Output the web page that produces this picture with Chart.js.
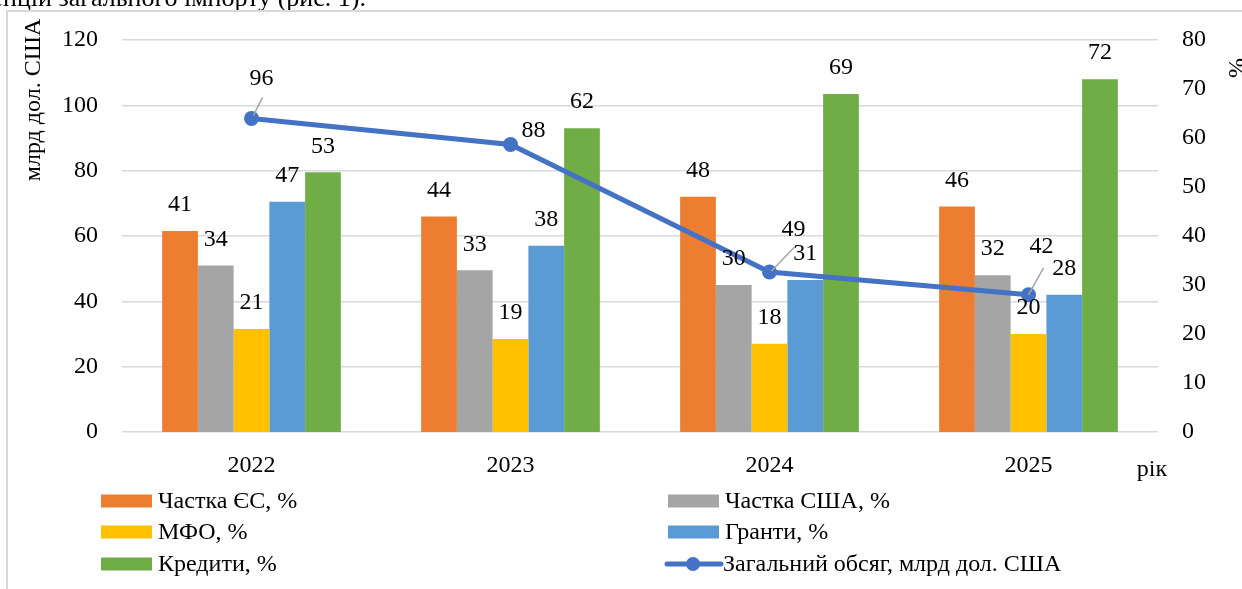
<!DOCTYPE html>
<html>
<head>
<meta charset="utf-8">
<script src="https://cdn.jsdelivr.net/npm/chart.js@4.4.1/dist/chart.umd.min.js"></script>
<style>
  body { margin:0; padding:0; background:#fff; }
  #frame { position:absolute; left:6px; top:10px; width:1236px; height:579px; border-left:2px solid #d9d9d9; border-top:2px solid #d9d9d9; box-sizing:border-box; }
  #clip { position:absolute; left:0; top:0; width:1242px; height:10px; overflow:hidden; }
  .txt { position:absolute; font-family:"Liberation Serif", serif; color:#000; white-space:nowrap; }
  #frag { right:876px; top:-15px; font-size:26px; line-height:26px; }
  #ytitle { font-size:24px; left:32px; top:100px; transform:translate(-50%,-50%) rotate(-90deg); }
  #y1title { font-size:24px; left:1236px; top:68px; transform:translate(-50%,-50%) rotate(-90deg); }
  #xtitle { font-size:24px; left:1152px; top:468px; transform:translate(-50%,-50%); }
</style>
</head>
<body>
<div style="width:1242px;height:589px"><canvas id="c" width="1242" height="589"></canvas></div>
<div id="clip"><div class="txt" id="frag">тенденцій загального імпорту (рис. 1).</div></div>
<div id="frame"></div>
<div class="txt" id="ytitle">млрд дол. США</div>
<div class="txt" id="y1title">%</div>
<div class="txt" id="xtitle">рік</div>
<script>
// ---- data ----
const categories = ['2022', '2023', '2024', '2025'];
const euShare     = [41, 44, 48, 46];
const usShare     = [34, 33, 30, 32];
const ifiShare    = [21, 19, 18, 20];
const grantShare  = [47, 38, 31, 28];
const creditShare = [53, 62, 69, 72];
const totalVolume = [96, 88, 49, 42];
const seriesNames = ['Частка ЄС, %', 'Частка США, %', 'МФО, %', 'Гранти, %', 'Кредити, %', 'Загальний обсяг, млрд дол. США'];

// ---- style ----
const SERIF = '"Liberation Serif", serif';
const colors = ['#ED7D31', '#A5A5A5', '#FFC000', '#5B9BD5', '#70AD47', '#4472C4'];
// label placement for line points (dx, dy) and leader line (from, to) relative to point
const lineLabelStyle = [
  { dx: 10, dy: -40, leader: [2, -3, 11, -21] },
  { dx: 23, dy: -14, leader: null },
  { dx: 24, dy: -42, leader: [2, -1, 25, -25] },
  { dx: 13, dy: -48, leader: [0, 0, 15, -27] }
];

const barSeries = [euShare, usShare, ifiShare, grantShare, creditShare];
const datasets = barSeries.map((arr, i) => ({
  type: 'bar',
  label: seriesNames[i],
  data: arr,
  backgroundColor: colors[i],
  borderWidth: 0,
  yAxisID: 'y1',
  categoryPercentage: 0.69,
  barPercentage: 1.0,
  order: 2
}));
datasets.push({
  type: 'line',
  label: seriesNames[5],
  data: totalVolume,
  borderColor: colors[5],
  backgroundColor: colors[5],
  borderWidth: 5,
  pointRadius: 7.5,
  pointHoverRadius: 7.5,
  pointBackgroundColor: colors[5],
  pointBorderWidth: 0,
  tension: 0,
  yAxisID: 'y',
  order: 1
});

const valueLabels = {
  id: 'valueLabels',
  afterDatasetsDraw(chart) {
    const ctx = chart.ctx;
    ctx.save();
    ctx.font = '24px ' + SERIF;
    ctx.fillStyle = '#000';
    ctx.textAlign = 'center';
    ctx.textBaseline = 'middle';
    chart.data.datasets.forEach((ds, i) => {
      const meta = chart.getDatasetMeta(i);
      meta.data.forEach((el, j) => {
        if (ds.type === 'line') {
          const st = lineLabelStyle[j];
          if (st.leader) {
            ctx.strokeStyle = '#A6A6A6';
            ctx.lineWidth = 1.5;
            ctx.beginPath();
            ctx.moveTo(el.x + st.leader[0], el.y + st.leader[1]);
            ctx.lineTo(el.x + st.leader[2], el.y + st.leader[3]);
            ctx.stroke();
          }
          ctx.fillText(String(ds.data[j]), el.x + st.dx, el.y + st.dy);
        } else {
          ctx.fillText(String(ds.data[j]), el.x, el.y - 26);
        }
      });
    });
    ctx.restore();
  }
};

const customLegend = {
  id: 'customLegend',
  afterDraw(chart) {
    const ctx = chart.ctx;
    const colX = [101, 668];
    const rowY = [501, 532, 564];
    ctx.save();
    ctx.font = '24px ' + SERIF;
    ctx.fillStyle = '#000';
    ctx.textBaseline = 'middle';
    ctx.textAlign = 'left';
    chart.data.datasets.forEach((ds, k) => {
      const x = colX[k % 2];
      const y = rowY[Math.floor(k / 2)];
      if (ds.type === 'line') {
        ctx.strokeStyle = ds.borderColor;
        ctx.lineWidth = 5;
        ctx.lineCap = 'round';
        ctx.beginPath();
        ctx.moveTo(x - 1, y);
        ctx.lineTo(x + 53, y);
        ctx.stroke();
        ctx.fillStyle = ds.borderColor;
        ctx.beginPath();
        ctx.arc(x + 25, y, 7, 0, Math.PI * 2);
        ctx.fill();
        ctx.fillStyle = '#000';
        ctx.fillText(ds.label, x + 55, y + 1);
      } else {
        ctx.fillStyle = ds.backgroundColor;
        ctx.fillRect(x, y - 6.5, 51, 13);
        ctx.fillStyle = '#000';
        ctx.fillText(ds.label, x + 57, y + 1);
      }
    });
    ctx.restore();
  }
};

const tickFont = { family: SERIF, size: 24 };

const chart = new Chart(document.getElementById('c'), {
  data: { labels: categories, datasets: datasets },
  options: {
    responsive: false,
    animation: false,
    layout: { padding: { top: 40, bottom: 107, left: 0, right: 0 } },
    plugins: { legend: { display: false }, tooltip: { enabled: false } },
    scales: {
      x: {
        grid: { display: false },
        border: { display: false },
        ticks: { color: '#000', font: tickFont, padding: 11 },
        afterFit(s) { s.height = 50; }
      },
      y: {
        position: 'left',
        min: 0, max: 120,
        ticks: { stepSize: 20, color: '#000', font: tickFont, padding: 24 },
        grid: { color: '#D9D9D9', lineWidth: 1.5, drawTicks: false },
        border: { display: false },
        afterFit(s) { s.width = 122; }
      },
      y1: {
        position: 'right',
        min: 0, max: 80,
        ticks: { stepSize: 10, color: '#000', font: tickFont, padding: 24 },
        grid: { display: false, drawTicks: false },
        border: { display: false },
        afterFit(s) { s.width = 84; }
      }
    }
  },
  plugins: [valueLabels, customLegend]
});
setTimeout(() => chart.update('none'), 200);
</script>
</body>
</html>
